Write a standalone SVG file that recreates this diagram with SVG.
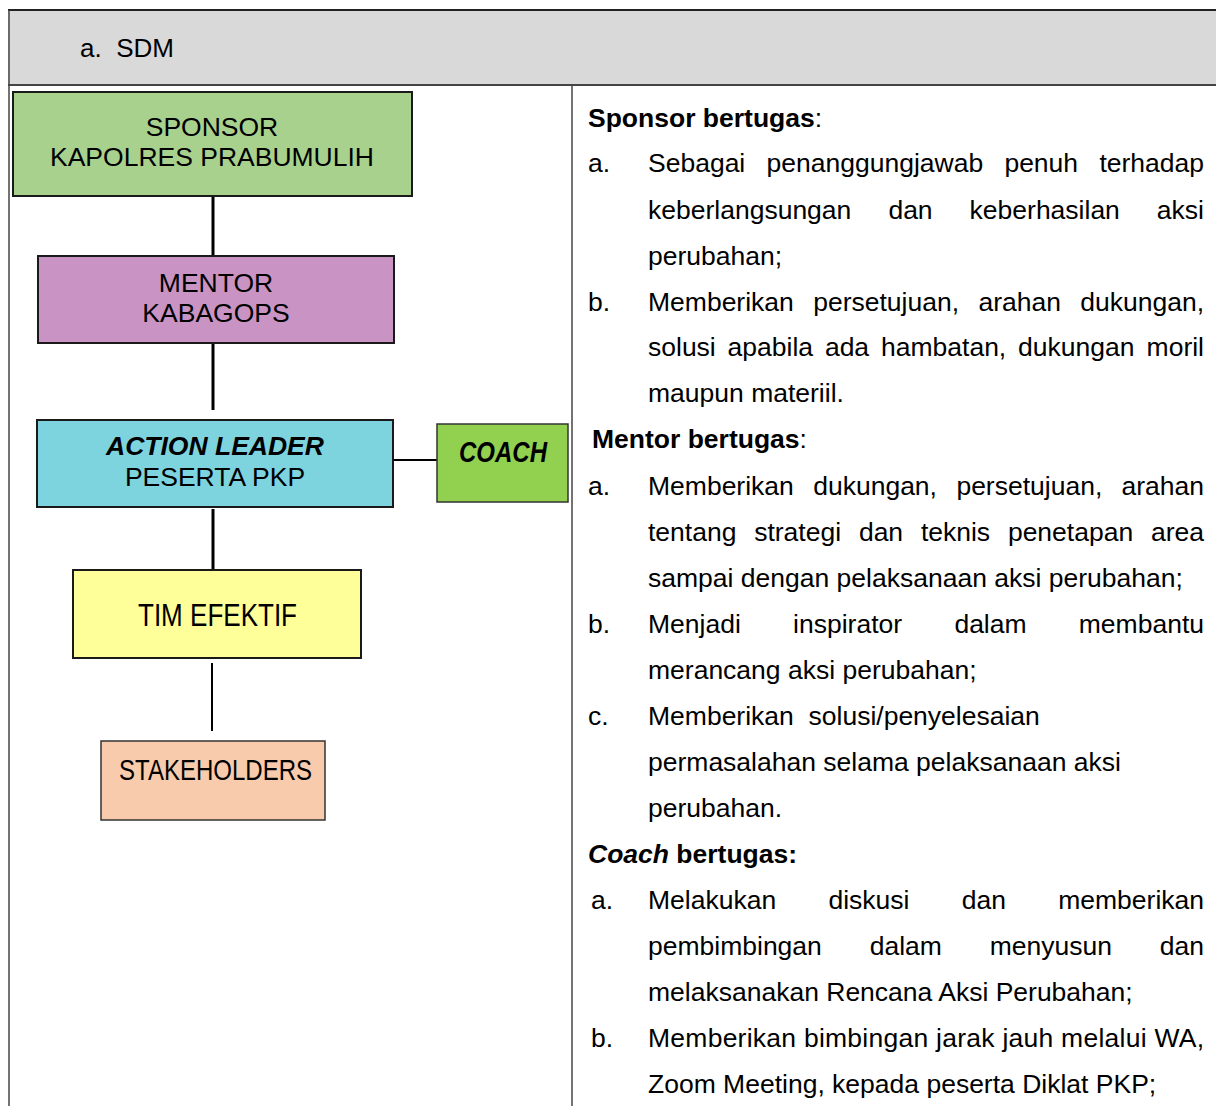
<svg xmlns="http://www.w3.org/2000/svg" width="1216" height="1106" viewBox="0 0 1216 1106">
  <style>
    text { font-family: "Liberation Sans", Arial, sans-serif; fill: #000; }
    .nodeTxt { font-size: 26.5px; text-anchor: middle; }
    .bi { font-weight: bold; font-style: italic; }
    .body { font-size: 26.5px; }
    .end { text-anchor: end; }
    .head { font-weight: bold; }
    .link { stroke: #000; stroke-width: 3; fill: none; }
    .linkThin { stroke: #000; stroke-width: 2; fill: none; }
    .box { stroke: #1a1a1a; stroke-width: 2; }
    .boxThin { stroke: #333; stroke-width: 1.5; }
  </style>

  <rect x="0" y="0" width="1216" height="1106" fill="#ffffff"/>

  <!-- table frame -->
  <g id="table">
    <rect x="8" y="10" width="1210" height="75" fill="#d9d9d9"/>
    <line x1="8" y1="10" x2="1216" y2="10" stroke="#222" stroke-width="2"/>
    <line x1="8" y1="85" x2="1216" y2="85" stroke="#444" stroke-width="2"/>
    <line x1="9" y1="10" x2="9" y2="1106" stroke="#444" stroke-width="1.5"/>
    <line x1="572" y1="85" x2="572" y2="1106" stroke="#444" stroke-width="1.5"/>
    <text x="80" y="57" style="font-size:26px" xml:space="preserve">a.  SDM</text>
  </g>

  <!-- connectors -->
  <g id="connectors">
    <line class="link" x1="213" y1="196" x2="213" y2="256"/>
    <line class="link" x1="213" y1="343" x2="213" y2="410"/>
    <line class="link" x1="213" y1="509" x2="213" y2="570"/>
    <line class="linkThin" x1="212" y1="663" x2="212" y2="731"/>
    <line class="linkThin" x1="393" y1="460" x2="437" y2="460"/>
  </g>

  <g id="node-sponsor">
    <rect class="box" x="13" y="92" width="399" height="104" fill="#a9d18e"/>
    <text class="nodeTxt" x="212" y="136">SPONSOR</text>
    <text class="nodeTxt" x="212" y="166">KAPOLRES PRABUMULIH</text>
  </g>

  <g id="node-mentor">
    <rect class="box" x="38" y="256" width="356" height="87" fill="#c994c3"/>
    <text class="nodeTxt" x="216" y="292">MENTOR</text>
    <text class="nodeTxt" x="216" y="322">KABAGOPS</text>
  </g>

  <g id="node-action-leader">
    <rect class="box" x="37" y="420" width="356" height="87" fill="#7dd4df"/>
    <text class="nodeTxt bi" x="215" y="455">ACTION LEADER</text>
    <text class="nodeTxt" x="215" y="486">PESERTA PKP</text>
  </g>

  <g id="node-coach">
    <rect class="boxThin" x="437" y="424" width="131" height="78" fill="#92d050"/>
    <text class="bi" x="459" y="462" style="font-size:29px" textLength="88" lengthAdjust="spacingAndGlyphs">COACH</text>
  </g>

  <g id="node-tim-efektif">
    <rect class="box" x="73" y="570" width="288" height="88" fill="#ffff99"/>
    <text x="138" y="626" style="font-size:32px" textLength="159" lengthAdjust="spacingAndGlyphs">TIM EFEKTIF</text>
  </g>

  <g id="node-stakeholders">
    <rect class="boxThin" x="101" y="741" width="224" height="79" fill="#f8cbad"/>
    <text x="119" y="780" style="font-size:29px" textLength="193" lengthAdjust="spacingAndGlyphs">STAKEHOLDERS</text>
  </g>

  <!-- duties column: justified lines are set word by word -->
  <g id="duties" class="body">
    <text x="588" y="127"><tspan class="head">Sponsor bertugas</tspan>:</text>

    <text x="588" y="172">a.</text>
    <text x="648" y="172">Sebagai</text>
    <text x="766.5" y="172">penanggungjawab</text>
    <text x="1004.4" y="172">penuh</text>
    <text class="end" x="1204" y="172">terhadap</text>

    <text x="648" y="219">keberlangsungan</text>
    <text x="888.4" y="219">dan</text>
    <text x="969.6" y="219">keberhasilan</text>
    <text class="end" x="1204" y="219">aksi</text>

    <text x="648" y="265">perubahan;</text>

    <text x="588" y="311">b.</text>
    <text x="648" y="311">Memberikan</text>
    <text x="813.2" y="311">persetujuan,</text>
    <text x="978.4" y="311">arahan</text>
    <text class="end" x="1204" y="311">dukungan,</text>

    <text x="648" y="356">solusi</text>
    <text x="727.6" y="356">apabila</text>
    <text x="824.9" y="356">ada</text>
    <text x="881" y="356">hambatan,</text>
    <text x="1018.1" y="356">dukungan</text>
    <text class="end" x="1204" y="356">moril</text>

    <text x="648" y="402">maupun materiil.</text>

    <text x="592" y="448"><tspan class="head">Mentor bertugas</tspan>:</text>

    <text x="588" y="495">a.</text>
    <text x="648" y="495">Memberikan</text>
    <text x="813.2" y="495">dukungan,</text>
    <text x="956.4" y="495">persetujuan,</text>
    <text class="end" x="1204" y="495">arahan</text>

    <text x="648" y="541">tentang</text>
    <text x="754.2" y="541">strategi</text>
    <text x="858.9" y="541">dan</text>
    <text x="920.9" y="541">teknis</text>
    <text x="1007.9" y="541">penetapan</text>
    <text class="end" x="1204" y="541">area</text>

    <text x="648" y="587">sampai dengan pelaksanaan aksi perubahan;</text>

    <text x="588" y="633">b.</text>
    <text x="648" y="633">Menjadi</text>
    <text x="793.1" y="633">inspirator</text>
    <text x="954.4" y="633">dalam</text>
    <text class="end" x="1204" y="633">membantu</text>

    <text x="648" y="679">merancang aksi perubahan;</text>

    <text x="588" y="725">c.</text>
    <text x="648" y="725" xml:space="preserve">Memberikan  solusi/penyelesaian</text>

    <text x="648" y="771">permasalahan selama pelaksanaan aksi</text>

    <text x="648" y="817">perubahan.</text>

    <text x="588" y="863"><tspan class="head" font-style="italic">Coach</tspan><tspan class="head"> bertugas:</tspan></text>

    <text x="591" y="909">a.</text>
    <text x="648" y="909">Melakukan</text>
    <text x="828.4" y="909">diskusi</text>
    <text x="961.7" y="909">dan</text>
    <text class="end" x="1204" y="909">memberikan</text>

    <text x="648" y="955">pembimbingan</text>
    <text x="869.7" y="955">dalam</text>
    <text x="989.8" y="955">menyusun</text>
    <text class="end" x="1204" y="955">dan</text>

    <text x="648" y="1001">melaksanakan Rencana Aksi Perubahan;</text>

    <text x="591" y="1047">b.</text>
    <text x="648" y="1047" textLength="556" lengthAdjust="spacing">Memberikan bimbingan jarak jauh melalui WA,</text>

    <text x="648" y="1093">Zoom Meeting, kepada peserta Diklat PKP;</text>
  </g>
</svg>
